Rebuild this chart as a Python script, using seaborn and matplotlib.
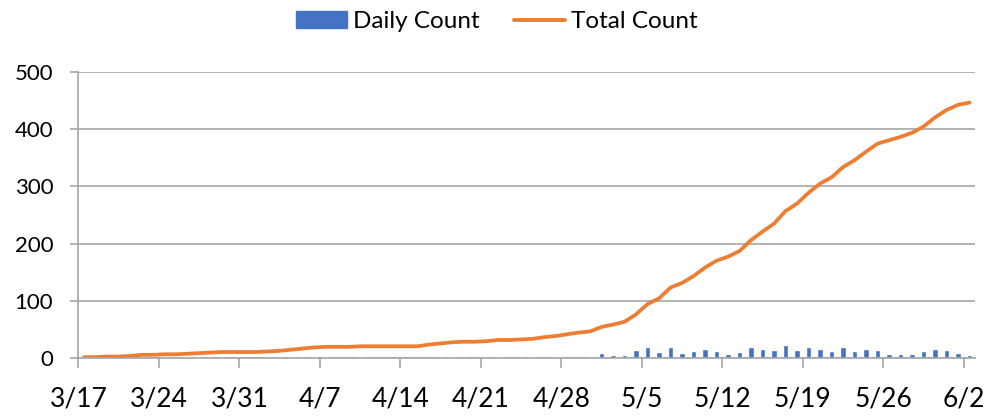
import numpy as np
import pandas as pd
import matplotlib
matplotlib.use("Agg")
import matplotlib.pyplot as plt
import matplotlib.patches as patches
import matplotlib.lines as mlines
import seaborn as sns

# days from 3/17 to 6/2
days = pd.date_range("2020-03-17", "2020-06-02", freq="D")
day_labels = [f"{d.month}/{d.day}" for d in days]

daily = [1, 0, 1, 0, 1, 2, 0, 1, 0, 1, 1, 1, 1, 0, 0, 0, 1, 1, 2, 2,
         2, 1, 0, 0, 1, 0, 0, 0, 0, 0, 3, 2, 2, 1, 0, 1, 2, 0, 1, 1,
         3, 2, 3, 3, 2, 8, 4, 5, 13, 18, 10, 19, 8, 12, 15, 12, 7, 10, 19, 15,
         14, 22, 13, 19, 16, 11, 18, 12, 15, 14, 6, 6, 7, 11, 16, 13, 9, 4]

total = [1, 1, 2, 2, 3, 5, 5, 6, 6, 7, 8, 9, 10, 10, 10, 10, 11, 12, 14, 16,
         18, 19, 19, 19, 20, 20, 20, 20, 20, 20, 23, 25, 27, 28, 28, 29, 31, 31, 32, 33,
         36, 38, 41, 44, 46, 54, 58, 63, 76, 94, 104, 123, 131, 143, 158, 170, 177, 187, 206, 221,
         235, 257, 270, 289, 305, 316, 334, 346, 361, 375, 381, 387, 394, 405, 421, 434, 443, 447]

tick_labels = ["3/17", "3/24", "3/31", "4/7", "4/14", "4/21",
               "4/28", "5/5", "5/12", "5/19", "5/26", "6/2"]

bar_color = "#4472C4"
line_color = "#ED7D31"
axis_gray = "#A6A6A6"

sns.set_style("white")
plt.rcParams['font.family'] = ['Lato', 'DejaVu Sans']
plt.rcParams['text.color'] = 'black'
plt.rcParams['xtick.labelcolor'] = 'black'
plt.rcParams['ytick.labelcolor'] = 'black'

df = pd.DataFrame({'idx': np.arange(len(days)), 'day': day_labels,
                   'Daily Count': daily, 'Total Count': total})

fig = plt.figure(figsize=(9.94, 4.17), dpi=100)
ax = fig.add_axes([0.0788, 0.1422, 0.9024, 0.6844])

sns.barplot(data=df, x='idx', y='Daily Count', color=bar_color, width=0.5,
            saturation=1, ax=ax)
sns.lineplot(data=df, x='idx', y='Total Count', color=line_color, linewidth=2.7,
             ax=ax)

ax.set_xlim(-0.5, len(days) - 0.5)
ax.set_ylim(0, 500)
ax.set_yticks(range(0, 501, 100))
ax.set_xticks([-0.5 + 7 * k for k in range(len(tick_labels))])
ax.set_xticklabels(tick_labels)
ax.set_xlabel("")
ax.set_ylabel("")

ax.grid(axis='y', color=axis_gray, linewidth=1.2)
ax.set_axisbelow(True)
for s in ['top', 'right']:
    ax.spines[s].set_visible(False)
for s in ['left', 'bottom']:
    ax.spines[s].set_color(axis_gray)
    ax.spines[s].set_linewidth(1.2)

ax.tick_params(axis='x', direction='out', length=7.5, width=1.2, color=axis_gray,
               labelsize=19, pad=13, bottom=True)
ax.tick_params(axis='y', direction='out', length=6, width=1.2, color=axis_gray,
               labelsize=16, pad=12, left=True)

handles = [patches.Patch(color=bar_color, label='Daily Count'),
           mlines.Line2D([], [], color=line_color, linewidth=2.8, label='Total Count')]
fig.legend(handles=handles, loc='upper center', bbox_to_anchor=(0.5, 1.025), ncol=2,
           frameon=False, fontsize=17.5, handlelength=2.1, columnspacing=1.4,
           handletextpad=0.25)

fig.savefig("out.png", dpi=100)
